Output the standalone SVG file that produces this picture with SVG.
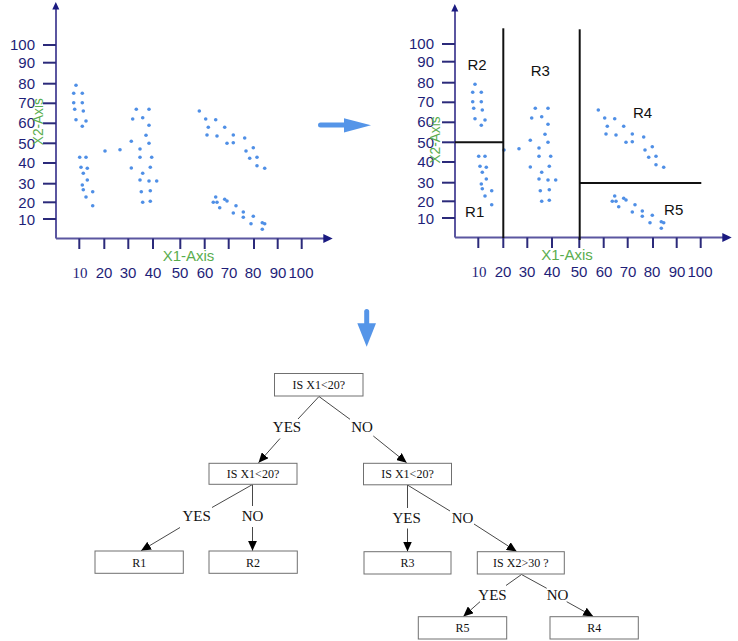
<svg xmlns="http://www.w3.org/2000/svg" xmlns:xlink="http://www.w3.org/1999/xlink" width="738" height="641" viewBox="0 0 738 641">
<style>
.ax{stroke:#5b56a0;stroke-width:2;fill:none}
.tk{stroke:#2b2a7a;stroke-width:2}
.ah{fill:#1a1a80}
.yl{font-family:"Liberation Sans",Arial,sans-serif;font-size:15px;fill:#1e1e78;text-anchor:end}
.xl{font-family:"Liberation Sans",Arial,sans-serif;font-size:15px;fill:#1e1e78;text-anchor:middle}
.xs{font-family:"Liberation Serif","Times New Roman",serif;font-size:15px;fill:#1e1e78;text-anchor:middle}
.gl{font-family:"Liberation Sans",Arial,sans-serif;font-size:15px;fill:#5aad4e}
.rl{font-family:"Liberation Sans",Arial,sans-serif;font-size:15px;fill:#111}
.sp{stroke:#111;stroke-width:2}
.pt{fill:#4f8fe6}
.bx{fill:#fff;stroke:#707070;stroke-width:1}
.bt{font-family:"Liberation Serif","Times New Roman",serif;font-size:12px;fill:#111;text-anchor:middle}
.lb{font-family:"Liberation Serif","Times New Roman",serif;font-size:15px;fill:#111;text-anchor:middle}
.cn{stroke:#333;stroke-width:0.9;fill:none}
.ba{fill:#5595e8}
</style>
<defs>
<marker id="arr" markerUnits="userSpaceOnUse" markerWidth="10" markerHeight="9" refX="10" refY="4.5" orient="auto">
<path d="M0,0 L10,4.5 L0,9 z" fill="#000"/>
</marker>
<g id="pts">
<circle class="pt" cx="76" cy="85.3" r="1.8"/><circle class="pt" cx="73.7" cy="93.3" r="1.8"/><circle class="pt" cx="82.3" cy="93.3" r="1.8"/><circle class="pt" cx="73.7" cy="102.7" r="1.8"/><circle class="pt" cx="82.3" cy="102.7" r="1.8"/><circle class="pt" cx="74.7" cy="109.3" r="1.8"/><circle class="pt" cx="83.3" cy="111" r="1.8"/><circle class="pt" cx="76" cy="119.7" r="1.8"/><circle class="pt" cx="86" cy="121" r="1.8"/><circle class="pt" cx="82.3" cy="126.3" r="1.8"/>
<circle class="pt" cx="79.7" cy="157.3" r="1.8"/><circle class="pt" cx="86" cy="157.3" r="1.8"/><circle class="pt" cx="81" cy="167.3" r="1.8"/><circle class="pt" cx="87.3" cy="168.3" r="1.8"/><circle class="pt" cx="83.3" cy="173.3" r="1.8"/><circle class="pt" cx="87.3" cy="180" r="1.8"/><circle class="pt" cx="82.3" cy="185" r="1.8"/><circle class="pt" cx="83.3" cy="189.7" r="1.8"/><circle class="pt" cx="92.7" cy="191.7" r="1.8"/><circle class="pt" cx="86" cy="197" r="1.8"/><circle class="pt" cx="92.7" cy="205.7" r="1.8"/>
<circle class="pt" cx="105" cy="151" r="1.8"/><circle class="pt" cx="120" cy="149.7" r="1.8"/>
<circle class="pt" cx="136.3" cy="109.3" r="1.8"/><circle class="pt" cx="149" cy="109.3" r="1.8"/><circle class="pt" cx="132.7" cy="119" r="1.8"/><circle class="pt" cx="142.7" cy="117.7" r="1.8"/><circle class="pt" cx="149" cy="125.3" r="1.8"/><circle class="pt" cx="146" cy="135.3" r="1.8"/><circle class="pt" cx="131.3" cy="141.3" r="1.8"/><circle class="pt" cx="149" cy="143.3" r="1.8"/><circle class="pt" cx="140" cy="149" r="1.8"/><circle class="pt" cx="140" cy="157.3" r="1.8"/><circle class="pt" cx="151.7" cy="157.3" r="1.8"/><circle class="pt" cx="131.3" cy="168" r="1.8"/><circle class="pt" cx="150.3" cy="167.3" r="1.8"/><circle class="pt" cx="142.7" cy="173.3" r="1.8"/><circle class="pt" cx="140" cy="180" r="1.8"/><circle class="pt" cx="149" cy="181" r="1.8"/><circle class="pt" cx="156.7" cy="181" r="1.8"/><circle class="pt" cx="141.3" cy="191.7" r="1.8"/><circle class="pt" cx="150.3" cy="190.7" r="1.8"/><circle class="pt" cx="142.7" cy="202.3" r="1.8"/><circle class="pt" cx="150.3" cy="201.3" r="1.8"/>
<circle class="pt" cx="199.3" cy="111" r="1.8"/><circle class="pt" cx="205.7" cy="119" r="1.8"/><circle class="pt" cx="215.7" cy="119.7" r="1.8"/><circle class="pt" cx="208.3" cy="127.3" r="1.8"/><circle class="pt" cx="224.7" cy="127.3" r="1.8"/><circle class="pt" cx="207" cy="135" r="1.8"/><circle class="pt" cx="217" cy="136" r="1.8"/><circle class="pt" cx="233.3" cy="135" r="1.8"/><circle class="pt" cx="244.7" cy="138" r="1.8"/><circle class="pt" cx="227" cy="143.3" r="1.8"/><circle class="pt" cx="233.3" cy="142.7" r="1.8"/><circle class="pt" cx="253.3" cy="147.7" r="1.8"/><circle class="pt" cx="246" cy="151" r="1.8"/><circle class="pt" cx="257" cy="157.3" r="1.8"/><circle class="pt" cx="249.7" cy="158.3" r="1.8"/><circle class="pt" cx="257" cy="165.7" r="1.8"/><circle class="pt" cx="264.7" cy="168.3" r="1.8"/>
<circle class="pt" cx="215.7" cy="197" r="1.8"/><circle class="pt" cx="213.3" cy="202.3" r="1.8"/><circle class="pt" cx="217" cy="202.3" r="1.8"/><circle class="pt" cx="224.7" cy="199.3" r="1.8"/><circle class="pt" cx="227" cy="201" r="1.8"/><circle class="pt" cx="219.7" cy="207.7" r="1.8"/><circle class="pt" cx="236" cy="205.7" r="1.8"/><circle class="pt" cx="233.3" cy="213" r="1.8"/><circle class="pt" cx="243.3" cy="212" r="1.8"/><circle class="pt" cx="243.3" cy="217.3" r="1.8"/><circle class="pt" cx="253.3" cy="216.3" r="1.8"/><circle class="pt" cx="251" cy="223.7" r="1.8"/><circle class="pt" cx="262.3" cy="222.7" r="1.8"/><circle class="pt" cx="264.7" cy="223.7" r="1.8"/><circle class="pt" cx="262.3" cy="229.3" r="1.8"/>
</g>
</defs>

<g id="plot-left">
<line class="ax" x1="56" y1="238.5" x2="56" y2="8"/>
<line class="ax" x1="56" y1="238.5" x2="324" y2="238.5"/>
<polygon class="ah" points="52.3,9.5 55.8,2 59.3,9.5"/>
<polygon class="ah" points="323.3,234 332.7,238.5 323.3,243"/>
<g class="tk">
<line x1="43" y1="45" x2="56" y2="45"/><line x1="43" y1="62.7" x2="56" y2="62.7"/><line x1="43" y1="83.7" x2="56" y2="83.7"/><line x1="43" y1="103.3" x2="56" y2="103.3"/><line x1="43" y1="123.3" x2="56" y2="123.3"/><line x1="43" y1="143.3" x2="56" y2="143.3"/><line x1="43" y1="163" x2="56" y2="163"/><line x1="43" y1="183.7" x2="56" y2="183.7"/><line x1="43" y1="202.3" x2="56" y2="202.3"/><line x1="43" y1="219" x2="56" y2="219"/>
<line x1="79.3" y1="238.5" x2="79.3" y2="249"/><line x1="104.3" y1="238.5" x2="104.3" y2="249"/><line x1="128.3" y1="238.5" x2="128.3" y2="249"/><line x1="153" y1="238.5" x2="153" y2="249"/><line x1="180.3" y1="238.5" x2="180.3" y2="249"/><line x1="204.7" y1="238.5" x2="204.7" y2="249"/><line x1="228.7" y1="238.5" x2="228.7" y2="249"/><line x1="254" y1="238.5" x2="254" y2="249"/><line x1="277.7" y1="238.5" x2="277.7" y2="249"/><line x1="301.7" y1="238.5" x2="301.7" y2="249"/>
</g>
<text class="yl" x="35" y="50.4">100</text><text class="yl" x="35" y="68.1">90</text><text class="yl" x="35" y="89">80</text><text class="yl" x="35" y="108.3">70</text><text class="yl" x="35" y="128.3">60</text><text class="yl" x="35" y="148.8">50</text><text class="yl" x="35" y="168.2">40</text><text class="yl" x="35" y="188.8">30</text><text class="yl" x="35" y="207.8">20</text><text class="yl" x="35" y="224.5">10</text>
<text class="xs" x="80" y="278">10</text><text class="xl" x="104" y="278">20</text><text class="xl" x="128" y="278">30</text><text class="xl" x="153" y="278">40</text><text class="xl" x="180" y="278">50</text><text class="xl" x="205" y="278">60</text><text class="xl" x="229" y="278">70</text><text class="xl" x="253" y="278">80</text><text class="xl" x="278" y="278">90</text><text class="xl" x="301" y="278">100</text>
<text class="gl" x="188.5" y="260.5" text-anchor="middle">X1-Axis</text>
<text class="gl" x="0" y="0" text-anchor="middle" transform="translate(43,121.7) rotate(-90)" textLength="47" lengthAdjust="spacingAndGlyphs">X2-Axis</text>
<use xlink:href="#pts"/>
</g>

<g id="plot-right">
<g transform="translate(399,-1)">
<line class="ax" x1="56" y1="238.5" x2="56" y2="11"/>
<line class="ax" x1="56" y1="238.5" x2="324" y2="238.5"/>
<polygon class="ah" points="52.3,12.5 55.8,5 59.3,12.5"/>
<polygon class="ah" points="323.3,234 332.7,238.5 323.3,243"/>
<g class="tk">
<line x1="43" y1="45" x2="56" y2="45"/><line x1="43" y1="62.7" x2="56" y2="62.7"/><line x1="43" y1="83.7" x2="56" y2="83.7"/><line x1="43" y1="103.3" x2="56" y2="103.3"/><line x1="43" y1="123.3" x2="56" y2="123.3"/><line x1="43" y1="143.3" x2="56" y2="143.3"/><line x1="43" y1="163" x2="56" y2="163"/><line x1="43" y1="183.7" x2="56" y2="183.7"/><line x1="43" y1="202.3" x2="56" y2="202.3"/><line x1="43" y1="219" x2="56" y2="219"/>
<line x1="79.3" y1="238.5" x2="79.3" y2="249"/><line x1="104.3" y1="238.5" x2="104.3" y2="249"/><line x1="128.3" y1="238.5" x2="128.3" y2="249"/><line x1="153" y1="238.5" x2="153" y2="249"/><line x1="180.3" y1="238.5" x2="180.3" y2="249"/><line x1="204.7" y1="238.5" x2="204.7" y2="249"/><line x1="228.7" y1="238.5" x2="228.7" y2="249"/><line x1="254" y1="238.5" x2="254" y2="249"/><line x1="277.7" y1="238.5" x2="277.7" y2="249"/><line x1="301.7" y1="238.5" x2="301.7" y2="249"/>
</g>
<text class="yl" x="35" y="50.4">100</text><text class="yl" x="35" y="68.1">90</text><text class="yl" x="35" y="89">80</text><text class="yl" x="35" y="108.3">70</text><text class="yl" x="35" y="128.3">60</text><text class="yl" x="35" y="148.8">50</text><text class="yl" x="35" y="168.2">40</text><text class="yl" x="35" y="188.8">30</text><text class="yl" x="35" y="207.8">20</text><text class="yl" x="35" y="224.5">10</text>
<text class="xs" x="80" y="278">10</text><text class="xl" x="104" y="278">20</text><text class="xl" x="128" y="278">30</text><text class="xl" x="153" y="278">40</text><text class="xl" x="180" y="278">50</text><text class="xl" x="205" y="278">60</text><text class="xl" x="229" y="278">70</text><text class="xl" x="253" y="278">80</text><text class="xl" x="278" y="278">90</text><text class="xl" x="301" y="278">100</text>
<use xlink:href="#pts"/>
</g>
<text class="gl" x="567" y="260" text-anchor="middle">X1-Axis</text>
<text class="gl" x="0" y="0" text-anchor="middle" transform="translate(440,140) rotate(-90)" textLength="47" lengthAdjust="spacingAndGlyphs">X2-Axis</text>
<line class="sp" x1="503.3" y1="28.3" x2="503.3" y2="238"/>
<line class="sp" x1="579.7" y1="29.3" x2="579.7" y2="240"/>
<line class="sp" x1="455" y1="142.3" x2="503.3" y2="142.3"/>
<line class="sp" x1="579.7" y1="183" x2="701.3" y2="183"/>
<text class="rl" x="477" y="70" text-anchor="middle">R2</text>
<text class="rl" x="540.3" y="75.5" text-anchor="middle">R3</text>
<text class="rl" x="642.5" y="118" text-anchor="middle">R4</text>
<text class="rl" x="673.7" y="215" text-anchor="middle">R5</text>
<text class="rl" x="474.7" y="217" text-anchor="middle">R1</text>
</g>

<g id="arrow-right">
<rect class="ba" x="318" y="122.6" width="30" height="5" rx="2.5"/>
<polygon class="ba" points="344,118.3 371,125.2 344,132.5"/>
</g>
<g id="arrow-down">
<rect class="ba" x="364.2" y="309" width="5" height="18" rx="2.5"/>
<polygon class="ba" points="357.3,323.3 376,323.3 366.7,346.7"/>
</g>

<g id="connectors">
<line class="cn" x1="319" y1="396.5" x2="298" y2="419"/>
<line class="cn" x1="280" y1="438.5" x2="258.5" y2="462.8" marker-end="url(#arr)"/>
<line class="cn" x1="319" y1="396.5" x2="350" y2="419.3"/>
<line class="cn" x1="373.3" y1="436" x2="406.7" y2="462.8" marker-end="url(#arr)"/>
<line class="cn" x1="252.5" y1="484.5" x2="212" y2="507.5"/>
<line class="cn" x1="180" y1="527.5" x2="141" y2="550.8" marker-end="url(#arr)"/>
<line class="cn" x1="252.5" y1="484.5" x2="252.5" y2="506"/>
<line class="cn" x1="252.5" y1="527" x2="252.5" y2="550.8" marker-end="url(#arr)"/>
<line class="cn" x1="407.5" y1="485" x2="407.5" y2="508"/>
<line class="cn" x1="407.5" y1="528.5" x2="407.5" y2="551.5" marker-end="url(#arr)"/>
<line class="cn" x1="407.5" y1="485" x2="450" y2="511"/>
<line class="cn" x1="474" y1="524" x2="516.7" y2="551.5" marker-end="url(#arr)"/>
<line class="cn" x1="521.5" y1="574.5" x2="506" y2="585.5"/>
<line class="cn" x1="480" y1="601.7" x2="463.3" y2="616.5" marker-end="url(#arr)"/>
<line class="cn" x1="521.5" y1="574.5" x2="546.7" y2="588.3"/>
<line class="cn" x1="566.7" y1="601.7" x2="593.3" y2="616.5" marker-end="url(#arr)"/>
<text class="lb" x="287" y="432.3">YES</text>
<text class="lb" x="362" y="432.3">NO</text>
<text class="lb" x="196.7" y="521">YES</text>
<text class="lb" x="252.5" y="521">NO</text>
<text class="lb" x="406.7" y="523.3">YES</text>
<text class="lb" x="462.5" y="523.3">NO</text>
<text class="lb" x="492.5" y="600">YES</text>
<text class="lb" x="557.5" y="600">NO</text>
</g>

<g id="node-root"><rect class="bx" x="274.5" y="373.5" width="88.5" height="22.5"/><text class="bt" x="318.8" y="389">IS X1&lt;20?</text></g>
<g id="node-left"><rect class="bx" x="209" y="463.3" width="88" height="21"/><text class="bt" x="253" y="478">IS X1&lt;20?</text></g>
<g id="node-right"><rect class="bx" x="363.5" y="463.3" width="88" height="21.5"/><text class="bt" x="407.5" y="478.3">IS X1&lt;20?</text></g>
<g id="node-r1"><rect class="bx" x="95" y="551" width="88.3" height="22.3"/><text class="bt" x="139.2" y="566.5">R1</text></g>
<g id="node-r2"><rect class="bx" x="209" y="551" width="88.3" height="22.3"/><text class="bt" x="253" y="566.5">R2</text></g>
<g id="node-r3"><rect class="bx" x="364" y="551.7" width="87" height="22.3"/><text class="bt" x="407.5" y="567">R3</text></g>
<g id="node-x2"><rect class="bx" x="477.3" y="551.7" width="87" height="22.3"/><text class="bt" x="520.8" y="567">IS X2&gt;30 ?</text></g>
<g id="node-r5"><rect class="bx" x="418.3" y="616.7" width="88.4" height="22.3"/><text class="bt" x="462.5" y="632.2">R5</text></g>
<g id="node-r4"><rect class="bx" x="550" y="616.7" width="88.3" height="22.3"/><text class="bt" x="594.2" y="632.2">R4</text></g>
</svg>
